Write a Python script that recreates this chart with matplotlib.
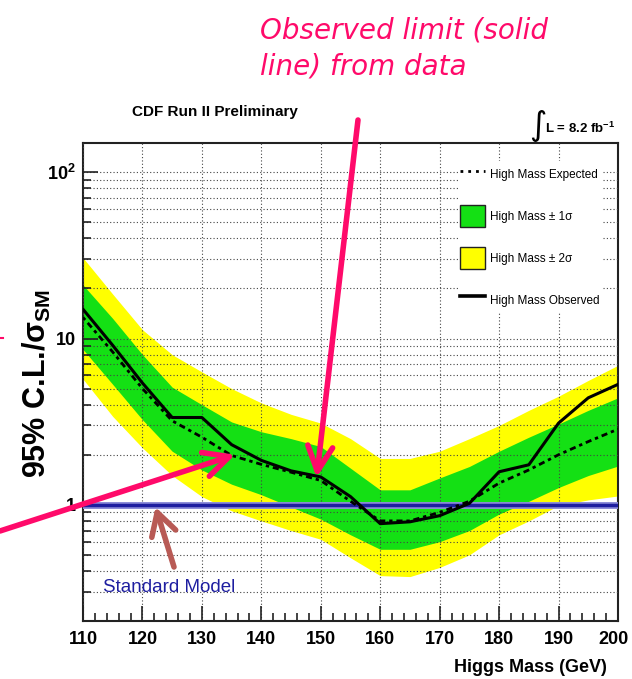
import matplotlib
matplotlib.use("Agg")
import matplotlib.pyplot as plt
import matplotlib.transforms as mtransforms
from matplotlib.lines import Line2D
from matplotlib.patches import Patch
from matplotlib.ticker import FixedLocator, FixedFormatter, LogLocator, NullFormatter

# --- data ---
mass = [110, 115, 120, 125, 130, 135, 140, 145, 150, 155,
        160, 165, 170, 175, 180, 185, 190, 195, 200]
observed = [15.0, 9.1, 5.4, 3.35, 3.35, 2.3, 1.85, 1.6, 1.47, 1.12,
            0.77, 0.79, 0.86, 1.02, 1.58, 1.74, 3.1, 4.4, 5.3]
expected = [13.4, 8.3, 5.0, 3.2, 2.55, 1.98, 1.75, 1.57, 1.40, 1.05,
            0.80, 0.80, 0.90, 1.05, 1.35, 1.62, 2.0, 2.4, 2.85]
band_2sig_lo = [5.7, 3.4, 2.2, 1.5, 1.12, 0.92, 0.80, 0.70, 0.62, 0.48,
                0.375, 0.37, 0.42, 0.50, 0.66, 0.80, 0.99, 1.07, 1.13]
band_1sig_lo = [8.6, 5.3, 3.25, 2.1, 1.62, 1.33, 1.15, 0.97, 0.82, 0.66,
                0.54, 0.54, 0.60, 0.70, 0.88, 1.05, 1.27, 1.50, 1.71]
band_1sig_hi = [21.0, 13.2, 8.0, 5.1, 4.0, 3.15, 2.75, 2.5, 2.24, 1.66,
                1.23, 1.23, 1.45, 1.70, 2.10, 2.55, 3.06, 3.7, 4.4]
band_2sig_hi = [30.6, 18.5, 11.3, 8.0, 6.3, 5.0, 4.1, 3.5, 3.1, 2.5,
                1.9, 1.9, 2.1, 2.5, 3.0, 3.7, 4.5, 5.6, 6.9]
sm_level = 1.0

x_ticks = [110, 120, 130, 140, 150, 160, 170, 180, 190, 200]
y_ticks = [1, 10, 100]
y_tick_labels = ["1", "10", r"$\mathregular{10^2}$"]

legend_labels = ["High Mass Expected", "High Mass \u00b1 1\u03c3",
                 "High Mass \u00b1 2\u03c3", "High Mass Observed"]

# colours
GREEN = "#14e014"
YELLOW = "#ffff00"
PINK = "#ff0a6a"
BROWN = "#b85a55"
SM_BLUE = "#1e1ea0"

plt.rcParams["font.family"] = ["Liberation Sans", "DejaVu Sans"]
plt.rcParams["mathtext.fontset"] = "custom"
plt.rcParams["mathtext.rm"] = "Liberation Sans"
plt.rcParams["mathtext.bf"] = "Liberation Sans:bold"
plt.rcParams["mathtext.it"] = "Liberation Sans:italic"

W, H = 632, 679
fig = plt.figure(figsize=(W / 100, H / 100), dpi=100)


def fig_xy(px, py):
    # pixel position in the picture (top-left origin) -> figure fraction
    return px / W, 1 - py / H


ax = fig.add_axes([83 / W, 1 - 621 / H, (618 - 83) / W, (621 - 143) / H])
ax.set_yscale("log")
ax.set_xlim(110, 200)
ax.set_ylim(0.2, 150)

# bands, then grid on top of them, then the lines
ax.fill_between(mass, band_2sig_lo, band_2sig_hi, color=YELLOW, lw=0, zorder=1)
ax.fill_between(mass, band_1sig_lo, band_1sig_hi, color=GREEN, lw=0, zorder=1.1)
ax.set_axisbelow(False)
ax.grid(True, axis="x", which="major", ls=(0, (1, 2)), color="#444444", lw=0.8)
ax.grid(True, axis="y", which="both", ls=(0, (1, 2)), color="#444444", lw=0.8)

ax.axhline(sm_level, color="#8c8cd8", lw=5, zorder=3)
ax.axhline(sm_level, color=SM_BLUE, lw=2.5, zorder=3.1)
ax.plot(mass, expected, color="black", lw=2.0, ls=(0, (1.2, 1.4, 2.2, 1.4)), zorder=4)
ax.plot(mass, observed, color="black", lw=2.2, zorder=4.1)

# ticks
ax.xaxis.set_major_locator(FixedLocator(x_ticks))
ax.xaxis.set_minor_locator(FixedLocator(list(range(110, 201, 2))))
ax.yaxis.set_major_locator(FixedLocator(y_ticks))
ax.yaxis.set_major_formatter(FixedFormatter(y_tick_labels))
ax.yaxis.set_minor_locator(LogLocator(base=10, subs=range(2, 10)))
ax.yaxis.set_minor_formatter(NullFormatter())
ax.tick_params(which="both", direction="in", top=False, right=False, width=1.2, color="#222222")
ax.tick_params(which="major", length=11)
ax.tick_params(which="minor", length=6)
ax.tick_params(axis="x", which="major", labelsize=13, pad=7)
ax.tick_params(axis="y", which="major", labelsize=13, pad=5)
for lab in ax.get_xticklabels() + ax.get_yticklabels():
    lab.set_fontweight("bold")
# the last x label sits at the very edge of the picture: nudge it in
last = ax.get_xticklabels()[-1]
last.set_transform(last.get_transform() +
                   mtransforms.ScaledTranslation(-3 / 72, 0, fig.dpi_scale_trans))
for sp in ax.spines.values():
    sp.set_linewidth(1.5)
    sp.set_color("#222222")

# legend
handles = [
    Line2D([], [], color="black", lw=2.0, ls=(0, (1, 1.8))),
    Patch(facecolor=GREEN, edgecolor="#222222", lw=1),
    Patch(facecolor=YELLOW, edgecolor="#222222", lw=1),
    Line2D([], [], color="black", lw=2.6),
]
leg = ax.legend(handles, legend_labels, loc="upper right",
                bbox_to_anchor=((602 - 83) / 535, (621 - 161) / 478),
                fontsize=8.5, frameon=True, fancybox=False, framealpha=1,
                facecolor="white", edgecolor="none", borderpad=0.2,
                handlelength=2.1, handleheight=2.4, handletextpad=0.45,
                labelspacing=1.75, borderaxespad=0)
leg.set_zorder(6)

# axis titles and header text
fig.text(*fig_xy(607, 667), "Higgs Mass (GeV)", ha="right", va="center",
         fontsize=13, fontweight="bold")
fig.text(*fig_xy(37, 383), r"95% C.L./$\mathbf{\sigma_{SM}}$", rotation=90,
         ha="center", va="center", fontsize=22, fontweight="bold")
fig.text(*fig_xy(215, 112), "CDF Run II Preliminary", ha="center", va="center",
         fontsize=11, fontweight="bold")
fig.text(*fig_xy(538, 126), "\u222b", ha="center", va="center", fontsize=24,
         family="DejaVu Sans")
fig.text(*fig_xy(545, 128), r"L = 8.2 fb$^{\mathregular{-1}}$", ha="left",
         va="center", fontsize=9.5, fontweight="bold")
fig.text(*fig_xy(103, 588), "Standard Model", ha="left", va="center",
         fontsize=13.5, color=SM_BLUE)

# pink annotation
fig.text(*fig_xy(260, 38), "Observed limit (solid", ha="left", va="baseline",
         fontsize=20, fontstyle="italic", color=PINK, family="DejaVu Sans")
fig.text(*fig_xy(260, 75), "line) from data", ha="left", va="baseline",
         fontsize=20, fontstyle="italic", color=PINK, family="DejaVu Sans")

pink_arrow = dict(arrowstyle="->,head_length=0.9,head_width=0.45", color=PINK,
                  lw=4, shrinkA=0, shrinkB=0, mutation_scale=20)
ax.annotate("", xy=(149.3, 1.46), xycoords="data",
            xytext=fig_xy(358, 120), textcoords="figure fraction",
            arrowprops=pink_arrow, annotation_clip=False, zorder=7)
ax.annotate("", xy=(135.6, 2.0), xycoords="data",
            xytext=fig_xy(0, 531), textcoords="figure fraction",
            arrowprops=pink_arrow, annotation_clip=False, zorder=7)
ax.annotate("", xy=(122.2, 0.97), xycoords="data",
            xytext=fig_xy(174, 567), textcoords="figure fraction",
            arrowprops=dict(arrowstyle="->,head_length=0.8,head_width=0.45",
                            color=BROWN, lw=4, shrinkA=0, shrinkB=0,
                            mutation_scale=20),
            annotation_clip=False, zorder=7)

# small clipped pink mark at the left edge
fig.add_artist(Line2D([0, 3 / W], [1 - 338 / H, 1 - 338 / H],
                      transform=fig.transFigure, color=PINK, lw=1.5))

fig.savefig("out.png", dpi=100)
